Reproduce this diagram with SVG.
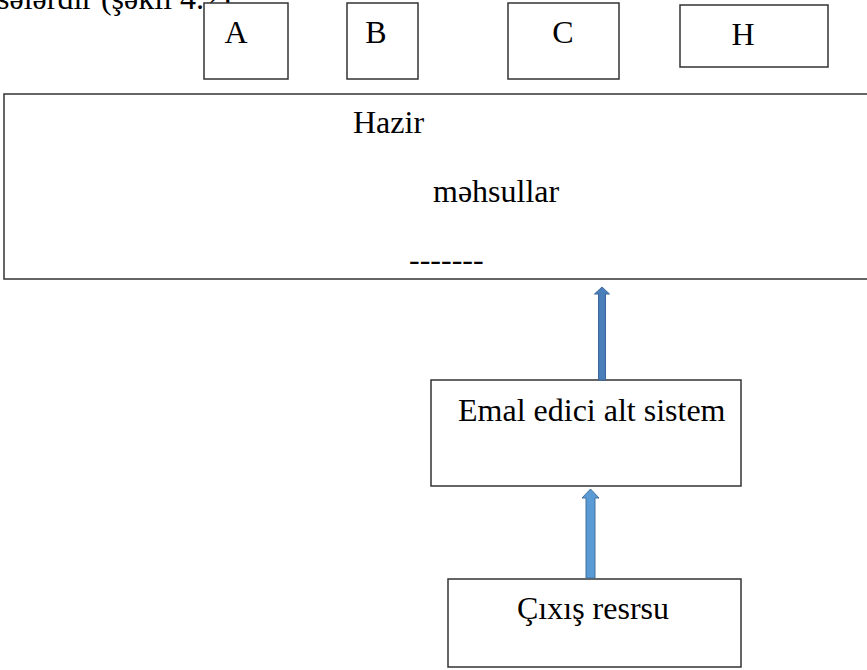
<svg xmlns="http://www.w3.org/2000/svg" width="867" height="670" viewBox="0 0 867 670">
<style>
.box{fill:#fff;stroke:#333;stroke-width:1.5}
.t{font-family:"Liberation Serif","Times New Roman",serif;font-size:32px;fill:#000}
.m{text-anchor:middle}
.arr1{fill:#4a7ebb;stroke:#3a689c;stroke-width:1}
.arr2{fill:#5b9bd5;stroke:#41719c;stroke-width:1}
</style>
<rect width="867" height="670" fill="#fff"/>
<text class="t" x="-3" y="9" font-size="29">sələrdir (şəkil 4.2).</text>
<g id="nodeA"><rect class="box" x="204" y="3" width="84" height="76"/><text class="t m" x="236" y="43">A</text></g>
<g id="nodeB"><rect class="box" x="347" y="3" width="71" height="76"/><text class="t m" x="376" y="43">B</text></g>
<g id="nodeC"><rect class="box" x="508" y="3" width="111" height="76"/><text class="t m" x="563" y="43">C</text></g>
<g id="nodeH"><rect class="box" x="680" y="5" width="148" height="62"/><text class="t m" x="743" y="45">H</text></g>
<g id="hazir"><rect class="box" x="4" y="94" width="866" height="185"/>
<text class="t" x="353" y="133">Hazir</text>
<text class="t" x="433" y="202">məhsullar</text>
<text class="t" x="409" y="270">-------</text></g>
<g id="emal"><rect class="box" x="431" y="380" width="310" height="106"/><text class="t" x="458" y="421">Emal edici alt sistem</text></g>
<g id="cixis"><rect class="box" x="448" y="579" width="293" height="88"/><text class="t" x="517" y="619">Çıxış resrsu</text></g>
<g id="connectors">
<polygon class="arr1" points="598.5,380 598.5,294 594.5,294 602,287 609.5,294 605.5,294 605.5,380"/>
<polygon class="arr2" points="586,578 586,498 582,498 590.5,489 599,498 595,498 595,578"/>
</g>
</svg>
